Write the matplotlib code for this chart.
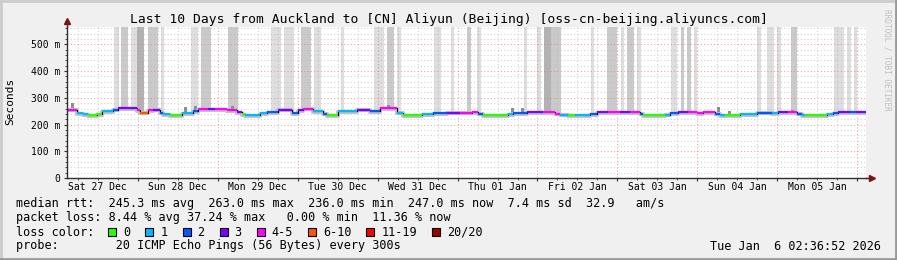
import numpy as np
import matplotlib.pyplot as plt
from matplotlib.lines import Line2D
from matplotlib.patches import Rectangle

# median rtt segments: start hour (since Fri 26 Dec 02:36:52), rtt in ms, loss bucket
seg_start = [0, 3.3, 5.1, 6.6, 9.3, 10.8, 14.1, 15.6, 21.3, 22.2, 24.6, 26.1, 28.2, 29.1,
             31.2, 34.8, 38.1, 39.6, 42.6, 44.7, 48.3, 51.3, 52.8, 53.7, 58.2, 60.3, 63.6,
             67.8, 69.6, 71.1, 74.1, 77.1, 78.3, 81.6, 87.3, 91.2, 94.2, 99.3, 101.1, 106.8,
             110.1, 114.3, 118.2, 121.8, 123.6, 125.1, 132.6, 134.1, 138.3, 143.1, 146.7,
             148.2, 150.6, 152.7, 157.2, 159.3, 162.6, 166.2, 169.2, 172.2, 173.1, 179.7,
             181.2, 183.6, 186.6, 189.3, 191.1, 194.7, 196.2, 197.7, 202.2, 207.3, 211.8,
             213.6, 216.6, 219.3, 220.8, 221.7, 228.3, 230.1, 231.6, 235.2, 237.0]
seg_rtt = [256, 244, 239, 235, 240, 251, 256, 261, 254, 245, 254, 256, 245, 239,
           235, 243, 250, 258, 257, 257, 254, 247, 238, 235, 243, 248, 256,
           244, 254, 260, 249, 241, 235, 249, 256, 251, 262, 245, 235, 240,
           243, 245, 245, 248, 241, 235, 238, 243, 246, 247, 241,
           237, 235, 235, 240, 247, 246, 246, 247, 241, 235, 237,
           243, 246, 246, 243, 247, 241, 235, 235, 240, 245, 242,
           247, 247, 241, 235, 235, 240, 243, 248, 246, 247]
seg_loss = [4, 1, 1, 0, 0, 1, 2, 3, 4, 5, 4, 3, 2, 1,
            0, 1, 2, 4, 3, 4, 4, 3, 0, 1, 1, 2, 3,
            2, 3, 4, 1, 2, 0, 1, 3, 2, 4, 1, 0, 1,
            2, 3, 4, 4, 2, 0, 1, 2, 3, 4, 4,
            1, 0, 1, 2, 3, 4, 3, 4, 2, 0, 1,
            2, 3, 4, 4, 4, 2, 1, 0, 1, 2, 1,
            3, 4, 2, 1, 0, 1, 2, 3, 2, 3]
window_end = 240.0

# smoke bands (ping spread reaching the top): start hour, width in hours, shade 0..2
smoke_start = [14.4, 16.5, 19.5, 21.3, 24.6, 28.5, 37.5, 40.5, 48.6, 61.5, 65.4, 70.5,
               74.4, 82.5, 92.4, 96.3, 99.3, 110.4, 115.5, 120.3, 123.3, 137.4, 141.3,
               143.4, 145.5, 157.5, 162.3, 166.5, 168.3, 171.3, 181.5, 184.5, 186.3,
               188.4, 207.3, 210.3, 213.3, 217.5, 230.4, 234.3, 236.4]
smoke_width = [1.5, 2.1, 1.8, 2.1, 3.0, 0.9, 2.1, 3.0, 3.0, 3.0, 3.0, 3.0,
               2.1, 0.9, 3.0, 2.1, 1.2, 2.1, 0.9, 1.2, 1.2, 0.9, 1.2,
               2.1, 3.0, 0.9, 3.0, 0.9, 2.1, 1.2, 1.8, 0.9, 1.2,
               0.9, 1.2, 2.1, 1.2, 1.8, 3.0, 1.2, 0.9]
smoke_shade = [0, 1, 0, 2, 1, 0, 0, 1, 1, 0, 0, 1,
               0, 0, 0, 1, 0, 0, 0, 1, 0, 0, 0,
               2, 1, 0, 1, 0, 1, 0, 0, 1, 1,
               0, 0, 0, 0, 1, 0, 0, 0]

# short smoke spikes just above the median
spike_hour = [1.8, 35.7, 38.7, 49.8, 96.6, 133.8, 136.8, 195.6, 198.9, 217.8]
spike_top = [282, 265, 270, 268, 275, 262, 262, 265, 250, 255]

day_labels = ["Sat 27 Dec", "Sun 28 Dec", "Mon 29 Dec", "Tue 30 Dec", "Wed 31 Dec",
              "Thu 01 Jan", "Fri 02 Jan", "Sat 03 Jan", "Sun 04 Jan", "Mon 05 Jan"]
first_midnight = 21.3856  # Sat 27 Dec 00:00 in hours since window start

loss_labels = ["0", "1", "2", "3", "4-5", "6-10", "11-19", "20/20"]
loss_colors = ["#26ff00", "#00b8ff", "#0059ff", "#7e00ff", "#ff00ff",
               "#ff5500", "#ff0000", "#a10000"]
shade_colors = ["#dedede", "#cacaca", "#b2b2b2"]

stats_rtt = "median rtt:  245.3 ms avg  263.0 ms max  236.0 ms min  247.0 ms now  7.4 ms sd  32.9   am/s"
stats_loss = "packet loss: 8.44 % avg 37.24 % max   0.00 % min  11.36 % now"
probe_text = "probe:        20 ICMP Echo Pings (56 Bytes) every 300s"
stamp = "Tue Jan  6 02:36:52 2026"
title = "Last 10 Days from Auckland to [CN] Aliyun (Beijing) [oss-cn-beijing.aliyuncs.com]"

plt.rcParams['font.family'] = ['DejaVu Sans Mono']
W, H = 897, 260
fig = plt.figure(figsize=(W / 100, H / 100), dpi=100, facecolor="#f0f0f0")

x0, x1, ybot, ytop = 66.5, 866, 178, 27
ax = fig.add_axes([x0 / W, 1 - ybot / H, (x1 - x0) / W, (ybot - ytop) / H])
ax.set_facecolor("white")
ymax = 0.565
ax.set_xlim(0, window_end)
ax.set_ylim(0, ymax)

# grid
day_ticks = first_midnight + 24 * np.arange(10)
ax.set_xticks(day_ticks)
ax.set_xticks(np.arange(first_midnight - 18, window_end, 6), minor=True)
ax.set_yticks(np.arange(0, 0.55, 0.1))
ax.set_yticks(np.arange(0, 0.565, 0.02), minor=True)
ax.set_yticklabels(["0", "100 m", "200 m", "300 m", "400 m", "500 m"])
ax.set_xticklabels([])
ax.grid(which="minor", color="#b8b8b8", alpha=0.6, linestyle=(0, (1, 2)), linewidth=0.8)
ax.grid(which="major", color="#e07878", alpha=0.65, linestyle=(0, (1, 2)), linewidth=0.8)
ax.set_axisbelow(False)
for s in ["top", "right"]:
    ax.spines[s].set_visible(False)
for s in ["left", "bottom"]:
    ax.spines[s].set_color("#303030")
    ax.spines[s].set_linewidth(1.0)
    ax.spines[s].set_zorder(7)
ax.tick_params(axis="y", which="major", length=2.5, width=0.8, color="#303030",
               labelsize=7, pad=2)
ax.tick_params(axis="y", which="minor", length=1.5, width=0.6, color="#303030")
ax.tick_params(axis="x", which="major", length=2, width=0.8, color="#303030", pad=1)
ax.tick_params(axis="x", which="minor", length=1.5, width=0.6, color="#303030")

for i, lab in enumerate(day_labels):
    ax.text(day_ticks[i] - 12, -0.026, lab, ha="center", va="top", fontsize=7,
            transform=ax.get_xaxis_transform())

starts = np.array(seg_start)
ends = np.append(starts[1:], window_end)
rtt = np.array(seg_rtt) / 1000.0


def base_at(h):
    return rtt[np.searchsorted(starts, h, side="right") - 1]


# smoke
for s, w, sh in zip(smoke_start, smoke_width, smoke_shade):
    b = base_at(s + w / 2)
    ax.bar(s, ymax - b, width=w, bottom=b, align="edge", color=shade_colors[sh],
           linewidth=0, zorder=2)
for h, t in zip(spike_hour, spike_top):
    b = base_at(h)
    ax.bar(h, t / 1000.0 - b, width=0.9, bottom=b, align="center", color="#8e8e8e",
           linewidth=0, zorder=3)

# median line
tx = np.append(starts, window_end)
ty = np.append(rtt, rtt[-1])
ax.step(tx, ty - 0.003, where="post", color="#c4c4c4", linewidth=3.0, zorder=3)
ax.step(tx, ty, where="post", color="black", linewidth=0.8, zorder=4)
ax.hlines(rtt, starts, ends, colors=[loss_colors[k] for k in seg_loss],
          linewidth=1.6, zorder=5)

# axis arrows
ax.add_line(Line2D([0, 0], [1, 1.03], transform=ax.transAxes, color="#303030",
                   linewidth=1.0, clip_on=False))
ax.add_line(Line2D([1, 1.006], [0, 0], transform=ax.transAxes, color="#303030",
                   linewidth=1.0, clip_on=False))
ax.plot([0], [1.04], marker="^", markersize=4.5, color="#7f1010", transform=ax.transAxes,
        clip_on=False, zorder=8)
ax.plot([1.008], [0], marker=">", markersize=4.5, color="#7f1010", transform=ax.transAxes,
        clip_on=False, zorder=8)

fig.text(10 / W, 1 - 101 / H, "Seconds", rotation=90, ha="center", va="center", fontsize=8)
fig.text(0.5, 1 - 19.5 / H, title, ha="center", va="center", fontsize=9.4)
fig.text(887 / W, 1 - 60 / H, "RRDTOOL / TOBI OETIKER", rotation=270, ha="center",
         va="center", fontsize=5.6, color="#c0c0c0")

# legend
cw = 7.1
lx = 16
fig.text(lx / W, 1 - 204 / H, stats_rtt, va="center", fontsize=8.5)
fig.text(lx / W, 1 - 218 / H, stats_loss, va="center", fontsize=8.5)
fig.text(lx / W, 1 - 232 / H, "loss color:", va="center", fontsize=8.5)
fig.text(lx / W, 1 - 246 / H, probe_text, va="center", fontsize=8.5)
fig.text(881 / W, 1 - 246 / H, stamp, va="center", ha="right", fontsize=8.5)
bx = 108.3
for lab, col in zip(loss_labels, loss_colors):
    fig.add_artist(Rectangle((bx / W, 1 - 236 / H), 8 / W, 8 / H, transform=fig.transFigure,
                             facecolor=col, edgecolor="black", linewidth=0.8))
    fig.text((bx + 15) / W, 1 - 232 / H, lab, va="center", fontsize=8.5)
    bx += 30 + cw * len(lab)

# 3d frame
fig.add_artist(Line2D([0, 1], [1 - 1 / H, 1 - 1 / H], transform=fig.transFigure,
                      color="#cbcbcb", linewidth=2))
fig.add_artist(Line2D([1 / W, 1 / W], [0, 1], transform=fig.transFigure,
                      color="#cbcbcb", linewidth=2))
fig.add_artist(Line2D([0, 1], [1 / H, 1 / H], transform=fig.transFigure,
                      color="#999999", linewidth=2))
fig.add_artist(Line2D([1 - 1 / W, 1 - 1 / W], [0, 1], transform=fig.transFigure,
                      color="#999999", linewidth=2))

fig.savefig("out.png", dpi=100, facecolor=fig.get_facecolor())
